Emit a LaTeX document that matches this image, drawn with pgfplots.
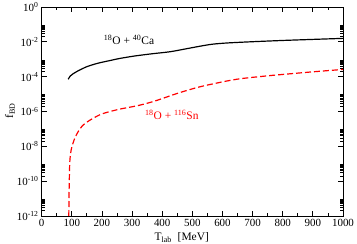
\documentclass[border=0pt]{standalone}
\usepackage{fontspec}
\setmainfont{Liberation Serif}
\usepackage{pgfplots}
\pgfplotsset{compat=1.18}
\begin{document}
\begin{tikzpicture}
\begin{axis}[
  scale only axis,
  width=301.3bp, height=209bp,
  xmode=normal, ymode=log,
  xmin=0, xmax=1000, ymin=1e-12, ymax=1,
  xtick={0,100,...,1000},
  minor xtick={50,150,...,950},
  ytick={1e-12,1e-10,1e-8,1e-6,1e-4,1e-2,1},
  yticklabels={10\textsuperscript{-12},10\textsuperscript{-10},10\textsuperscript{-8},10\textsuperscript{-6},10\textsuperscript{-4},10\textsuperscript{-2},10\textsuperscript{0}},
  minor ytick={2e-12,3e-12,4e-12,5e-12,6e-12,7e-12,8e-12,9e-12,
               2e-10,3e-10,4e-10,5e-10,6e-10,7e-10,8e-10,9e-10,
               2e-8,3e-8,4e-8,5e-8,6e-8,7e-8,8e-8,9e-8,
               2e-6,3e-6,4e-6,5e-6,6e-6,7e-6,8e-6,9e-6,
               2e-4,3e-4,4e-4,5e-4,6e-4,7e-4,8e-4,9e-4,
               2e-2,3e-2,4e-2,5e-2,6e-2,7e-2,8e-2,9e-2},
  tick align=inside,
  major tick length=5bp, minor tick length=3bp,
  tick style={black, line width=0.8pt},
  axis line style={line width=0.9pt},
  xticklabel style={/pgf/number format/assume math mode=true, /pgf/number format/1000 sep={}, font=\fontsize{11}{12}\selectfont, inner sep=1pt, yshift=-2bp},
  yticklabel style={font=\fontsize{11}{12}\selectfont, inner sep=1pt, xshift=-2bp},
  xlabel={T\textsubscript{lab}\ \ [MeV]},
  xlabel style={font=\fontsize{11.5}{12}\selectfont, at={(axis description cs:0.465,0)}, anchor=north, yshift=-13bp},
  ylabel={f\textsubscript{BD}},
  ylabel style={font=\fontsize{11.5}{12}\selectfont, at={(axis description cs:-0.105,0.505)}, anchor=center},
  clip=true,
]
\addplot[black, line width=1.2pt, smooth] coordinates {
(88,7.1e-5) (95,1.1e-4) (105,1.5e-4) (116,1.95e-4) (132,2.7e-4) (149,3.7e-4) (170,4.9e-4) (193,6.3e-4) (225,8.3e-4) (260,1.12e-3) (310,1.55e-3) (370,2.1e-3) (426,2.7e-3) (480,4.0e-3) (530,5.8e-3) (569,7.4e-3) (620,8.7e-3) (702,1.02e-2) (800,1.2e-2) (900,1.38e-2) (1000,1.58e-2)
};
\addplot[red, line width=1.2pt, dash pattern=on 6bp off 3bp, smooth] coordinates {
(90,1e-12) (91,3.2e-11) (93,1e-9) (96,4e-9) (100,9e-9) (107,2.2e-8) (116,4.9e-8) (127,1.0e-7) (138,1.7e-7) (155,2.8e-7) (171,4.1e-7) (193,6.5e-7) (216,8.9e-7) (260,1.38e-6) (320,2.2e-6) (376,4.0e-6) (443,1.0e-5) (500,2.0e-5) (550,3.3e-5) (647,7.1e-5) (750,1.12e-4) (814,1.41e-4) (900,1.9e-4) (1000,2.6e-4)
};
\node[font=\fontsize{11.5}{12}\selectfont] at (axis cs:290,1.26e-2) {\textsuperscript{18}O + \textsuperscript{40}Ca};
\node[red, font=\fontsize{11.5}{12}\selectfont] at (axis cs:432,6.3e-7) {\textsuperscript{18}O + \textsuperscript{116}Sn};
\end{axis}
\pgfresetboundingbox
\path[use as bounding box] ([shift={(-41.7bp,-28bp)}]current axis.south west) rectangle ([shift={(14bp,7bp)}]current axis.north east);
\end{tikzpicture}
\end{document}
